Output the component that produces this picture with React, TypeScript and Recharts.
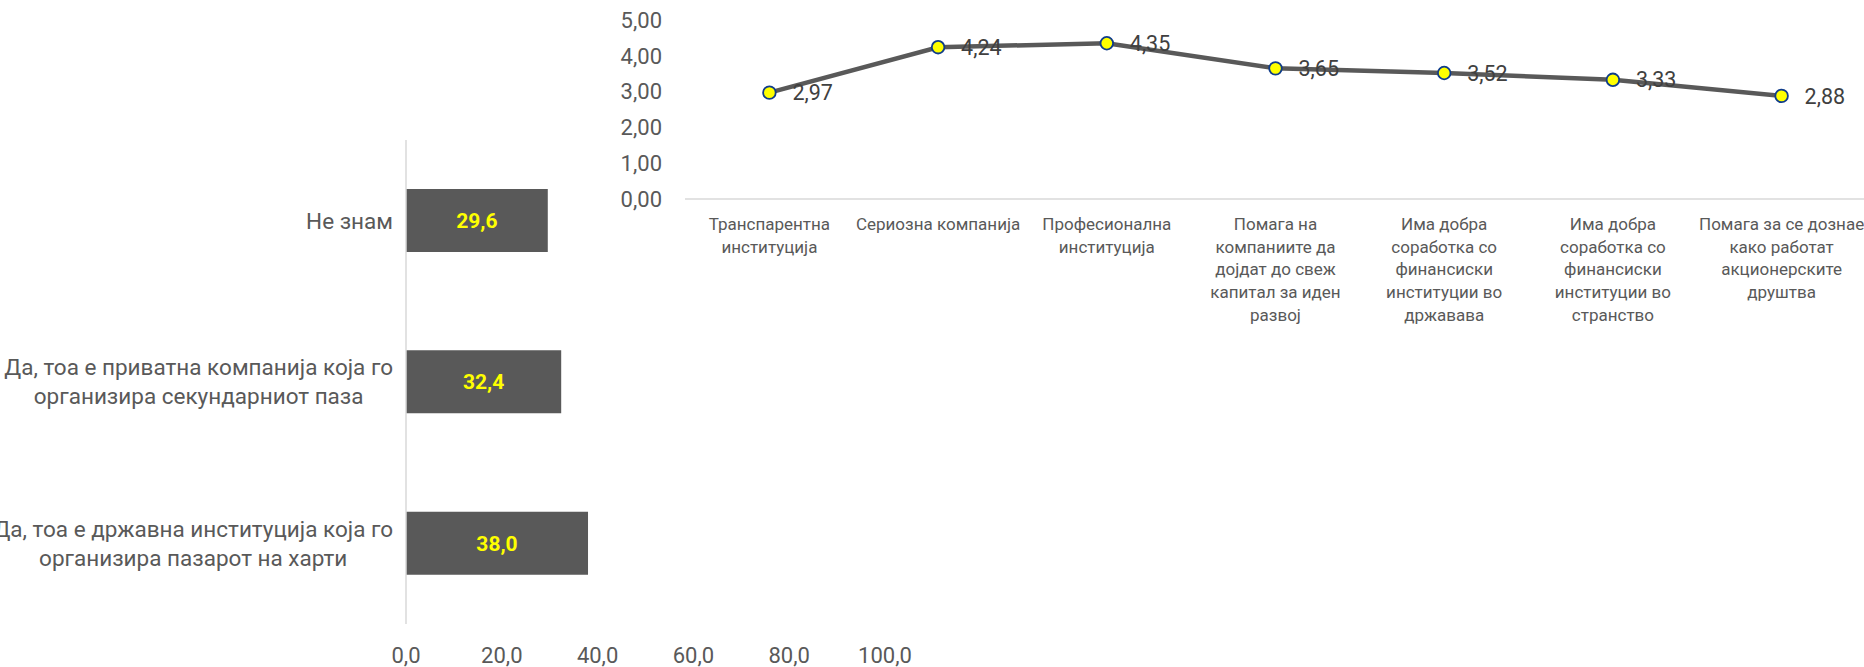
import React from "react";
import { LineChart, Line, BarChart, Bar, XAxis, YAxis, LabelList } from "recharts";

// ratings (1-5) per statement
const ratingCategories = [
  "Транспарентна\nинституција",
  "Сериозна компанија",
  "Професионална\nинституција",
  "Помага на\nкомпаниите да\nдојдат до свеж\nкапитал за иден\nразвој",
  "Има добра\nсоработка со\nфинансиски\nинституции во\nдржавава",
  "Има добра\nсоработка со\nфинансиски\nинституции во\nстранство",
  "Помага за се дознае\nкако работат\nакционерските\nдруштва",
];
const ratingValues = [2.97, 4.24, 4.35, 3.65, 3.52, 3.33, 2.88];
const ratingTicks = [0, 1, 2, 3, 4, 5];

// share of answers, %
const answerCategories = [
  "Не знам",
  "Да, тоа е приватна компанија која го\nорганизира секундарниот паза",
  "Да, тоа е државна институција која го\nорганизира пазарот на харти",
];
const answerValues = [29.6, 32.4, 38.0];
const answerTicks = [0, 20, 40, 60, 80, 100];

const FONT = "Roboto, 'Noto Sans', sans-serif";
const GREY = "#595959";
const LABEL = "#404040";
const AXIS = "#d9d9d9";

const ratingData = ratingCategories.map((name, i) => ({ name, value: ratingValues[i] }));
const answerData = answerCategories.map((name, i) => ({ name, value: answerValues[i] }));

const comma = (v: number, d: number) => v.toFixed(d).replace(".", ",");

let measureCtx: CanvasRenderingContext2D | null = null;
function textWidth(s: string, size: number) {
  if (!measureCtx) measureCtx = document.createElement("canvas").getContext("2d");
  if (!measureCtx) return s.length * size * 0.5;
  measureCtx.font = `${size}px Roboto`;
  return measureCtx.measureText(s).width;
}

// wrapped category label, lines centred on each other, block right-aligned to the axis
function AnswerTick(props: any) {
  const { x, y, payload } = props;
  const size = 22.5;
  const lineH = 29;
  const lines = String(payload.value).split("\n");
  const w = Math.max(...lines.map((l) => textWidth(l, size)));
  const cx = x - w / 2;
  const top = y - ((lines.length - 1) * lineH) / 2;
  return (
    <text textAnchor="middle" fill={GREY} fontSize={size} fontFamily={FONT}>
      {lines.map((l, i) => (
        <tspan key={i} x={cx} y={top + i * lineH} dy="0.35em">
          {l}
        </tspan>
      ))}
    </text>
  );
}

function RatingTick(props: any) {
  const { x, y, payload } = props;
  const lines = String(payload.value).split("\n");
  return (
    <text textAnchor="middle" fill={GREY} fontSize={17} fontFamily={FONT}>
      {lines.map((l, i) => (
        <tspan key={i} x={x} y={y + 31 + i * 22.7}>
          {l}
        </tspan>
      ))}
    </text>
  );
}

export default function App() {
  return (
    <div
      style={{
        position: "absolute",
        left: 0,
        top: 0,
        width: 1864,
        height: 667,
        overflow: "hidden",
        background: "#fff",
        fontFamily: FONT,
      }}
    >
      <div style={{ position: "absolute", left: 0, top: 0 }}>
        <BarChart
          width={915}
          height={667}
          layout="vertical"
          data={answerData}
          margin={{ top: 140, right: 30, bottom: 0, left: 0 }}
        >
          <XAxis
            type="number"
            domain={[0, 100]}
            ticks={answerTicks}
            axisLine={false}
            tickLine={false}
            tickSize={0}
            tickMargin={23}
            height={43}
            tick={{ fill: GREY, fontSize: 22, fontFamily: FONT }}
            tickFormatter={(v: number) => comma(v, 1)}
          />
          <YAxis
            type="category"
            dataKey="name"
            width={406}
            axisLine={{ stroke: AXIS, strokeWidth: 1.5 }}
            tickLine={false}
            tickSize={0}
            tickMargin={13}
            interval={0}
            tick={<AnswerTick />}
          />
          <Bar dataKey="value" fill={GREY} barSize={63} isAnimationActive={false}>
            <LabelList
              dataKey="value"
              position="center"
              fill="#ffff00"
              fontSize={21}
              fontWeight="bold"
              fontFamily={FONT}
              formatter={(v: any) => comma(Number(v), 1)}
            />
          </Bar>
        </BarChart>
      </div>

      <div style={{ position: "absolute", left: 560, top: 0 }}>
        <LineChart
          width={1306}
          height={339}
          data={ratingData}
          margin={{ top: 20, right: 0, bottom: 0, left: 0 }}
        >
          <XAxis
            dataKey="name"
            interval={0}
            padding={{ left: 84.4, right: 84.4 }}
            axisLine={{ stroke: AXIS, strokeWidth: 1.5 }}
            tickLine={false}
            tickSize={0}
            tickMargin={0}
            height={140}
            tick={<RatingTick />}
          />
          <YAxis
            domain={[0, 5]}
            ticks={ratingTicks}
            width={125}
            axisLine={false}
            tickLine={false}
            tickSize={0}
            tickMargin={23}
            tick={{ fill: GREY, fontSize: 22, fontFamily: FONT }}
            tickFormatter={(v: number) => comma(v, 2)}
          />
          {/* labels sit under the line */}
          <Line
            dataKey="value"
            stroke="none"
            dot={false}
            activeDot={false}
            isAnimationActive={false}
          >
            <LabelList
              dataKey="value"
              position="right"
              offset={23}
              fill={LABEL}
              fontSize={21.5}
              fontFamily={FONT}
              formatter={(v: any) => comma(Number(v), 2)}
            />
          </Line>
          <Line
            dataKey="value"
            stroke={GREY}
            strokeWidth={4.5}
            dot={{ r: 6.3, fill: "#ffff00", stroke: "#0f3c8a", strokeWidth: 1.8 }}
            activeDot={false}
            isAnimationActive={false}
          />
        </LineChart>
      </div>
    </div>
  );
}
